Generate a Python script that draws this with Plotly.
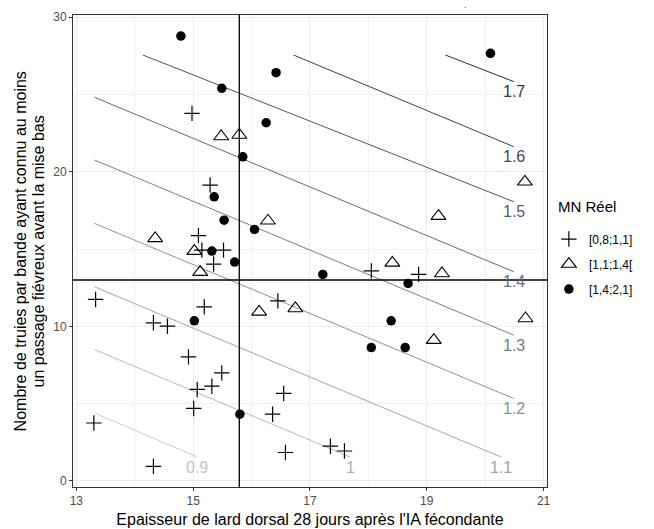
import plotly.graph_objects as go

# ---------------- data ----------------
plus_x = [14.98, 15.29, 15.09, 15.15, 15.52, 15.35, 18.05, 18.86, 13.33, 15.19, 16.45, 14.32, 14.56,
          14.92, 15.49, 15.32, 15.07, 16.55, 15.01, 16.36, 13.30, 16.58, 17.35, 17.59, 14.32]
plus_y = [23.78, 19.14, 15.87, 14.93, 14.93, 14.03, 13.59, 13.36, 11.74, 11.26, 11.65, 10.23, 10.01,
          8.03, 6.99, 6.13, 5.92, 5.66, 4.69, 4.32, 3.75, 1.84, 2.25, 1.94, 0.95]

tri_x = [15.48, 15.79, 16.28, 14.35, 15.02, 15.12, 18.41, 19.26, 16.13, 16.75, 19.12, 20.68, 19.20, 20.69]
tri_y = [22.28, 22.38, 16.83, 15.69, 14.87, 13.51, 14.11, 13.42, 10.94, 11.16, 9.11, 19.35, 17.13, 10.51]

dot_x = [14.79, 15.49, 16.42, 16.25, 15.85, 15.36, 15.53, 16.05, 15.32, 15.71, 17.22, 18.68, 18.39,
         18.05, 18.63, 15.02, 15.80, 20.09]
dot_y = [28.78, 25.40, 26.41, 23.17, 20.97, 18.38, 16.87, 16.27, 14.87, 14.16, 13.36, 12.78, 10.36,
         8.63, 8.63, 10.36, 4.32, 27.66]

group_names = ["[0,8;1,1]", "[1,1;1,4[", "[1,4;2,1]"]
legend_title = "MN Réel"

# iso-lines (contours) : level, start point, end point
contour_levels = [0.9, 1.0, 1.1, 1.2, 1.3, 1.4, 1.5, 1.6, 1.7]
contour_labels = ["0.9", "1", "1.1", "1.2", "1.3", "1.4", "1.5", "1.6", "1.7"]
contour_x0 = [13.31, 13.31, 13.31, 13.31, 13.31, 13.31, 14.14, 16.72, 19.32]
contour_y0 = [4.40, 8.50, 12.56, 16.66, 20.76, 24.82, 27.55, 27.55, 27.55]
contour_x1 = [15.07, 17.69, 20.27, 20.49, 20.49, 20.49, 20.49, 20.49, 20.49]
contour_y1 = [1.55, 1.55, 1.55, 5.33, 9.43, 13.53, 18.06, 21.62, 25.83]

vline_x = 15.79
hline_y = 13

x_ticks = [13, 15, 17, 19, 21]
y_ticks = [0, 10, 20, 30]

x_title = "Epaisseur de lard dorsal 28 jours après l'IA fécondante"
y_title_lines = ["Nombre de truies par bande ayant connu au moins",
                 "un passage fiévreux avant la mise bas"]

# ---------------- style ----------------
FONT = "Liberation Sans, Arial, sans-serif"


def ramp(level, lo_rgb, hi_rgb):
    t = (level - contour_levels[0]) / (contour_levels[-1] - contour_levels[0])
    c = [round(a + (b - a) * t) for a, b in zip(lo_rgb, hi_rgb)]
    return "rgb(%d,%d,%d)" % tuple(c)


fig = go.Figure()

for lev, lab, x0, y0, x1, y1 in zip(contour_levels, contour_labels, contour_x0, contour_y0,
                                    contour_x1, contour_y1):
    fig.add_trace(go.Scatter(x=[x0, x1], y=[y0, y1], mode="lines",
                             line=dict(color=ramp(lev, (205, 205, 205), (45, 45, 45)), width=1),
                             showlegend=False, hoverinfo="skip"))
    fig.add_annotation(x=x1, y=y1, text=lab, showarrow=False, xanchor="center", yanchor="middle",
                       yshift=-10, font=dict(family=FONT, size=16,
                                             color=ramp(lev, (190, 196, 206), (50, 55, 70))))

fig.add_vline(x=vline_x, line=dict(color="black", width=1.3), layer="above")
fig.add_hline(y=hline_y, line=dict(color="black", width=1.5), layer="above")

fig.add_trace(go.Scatter(x=plus_x, y=plus_y, mode="markers", name=group_names[0], legendgroup="a",
                         marker=dict(symbol="cross-thin-open", size=11, color="black",
                                     line=dict(color="black", width=1.2))))
fig.add_trace(go.Scatter(x=tri_x, y=tri_y, mode="markers", name=group_names[1], legendgroup="b",
                         marker=dict(symbol="triangle-up-open", size=13, color="black",
                                     line=dict(color="black", width=1.1))))
fig.add_trace(go.Scatter(x=dot_x, y=dot_y, mode="markers", name=group_names[2], legendgroup="c",
                         marker=dict(symbol="circle", size=9.5, color="black",
                                     line=dict(width=0))))

# small dot at the top of the panel
fig.add_annotation(xref="paper", yref="paper", x=0.835, y=1.0, yanchor="bottom", yshift=3,
                   text=".", showarrow=False, font=dict(family=FONT, size=9, color="#333"))

# y-axis title (two lines, ggplot-like line height)
for i, line_txt in enumerate(y_title_lines):
    fig.add_annotation(xref="paper", yref="paper", x=[-0.111, -0.073][i], y=0.5,
                       xanchor="center", yanchor="middle", textangle=-90, showarrow=False,
                       text=line_txt, font=dict(family=FONT, size=16, color="black"))

# legend title
fig.add_annotation(xref="paper", yref="paper", x=1.019, y=0.595, xanchor="left", yanchor="middle",
                   text=legend_title, showarrow=False,
                   font=dict(family=FONT, size=15, color="black"))

axis_common = dict(showgrid=True, gridcolor="#ebebeb", gridwidth=1, zeroline=False,
                   showline=True, mirror=True, linecolor="#333333", linewidth=1,
                   ticks="outside", ticklen=3, tickcolor="#333333", tickwidth=1,
                   tickfont=dict(family=FONT, size=12, color="#4d4d4d"))

fig.update_xaxes(range=[12.943, 21.058], tickvals=x_ticks, ticktext=[str(v) for v in x_ticks],
                 minor=dict(dtick=1, tick0=13, showgrid=True, gridcolor="#f0f0f0", gridwidth=0.7,
                            ticks=""),
                 title=dict(text=x_title,
                            font=dict(family=FONT, size=16, color="black"), standoff=6),
                 **axis_common)
fig.update_yaxes(range=[-0.39, 30.14], tickvals=y_ticks, ticktext=[str(v) for v in y_ticks],
                 minor=dict(dtick=5, tick0=0, showgrid=True, gridcolor="#f0f0f0", gridwidth=0.7,
                            ticks=""),
                 **axis_common)

fig.update_layout(
    width=654, height=529,
    margin=dict(l=73, r=107, t=15, b=42, autoexpand=False),
    paper_bgcolor="white", plot_bgcolor="white",
    font=dict(family=FONT),
    showlegend=True,
    legend=dict(font=dict(family=FONT, size=12, color="black"),
                x=1.004, xanchor="left", y=0.556, yanchor="top",
                tracegroupgap=6, bgcolor="rgba(0,0,0,0)", itemsizing="trace"),
)

fig.write_html("out.html")
